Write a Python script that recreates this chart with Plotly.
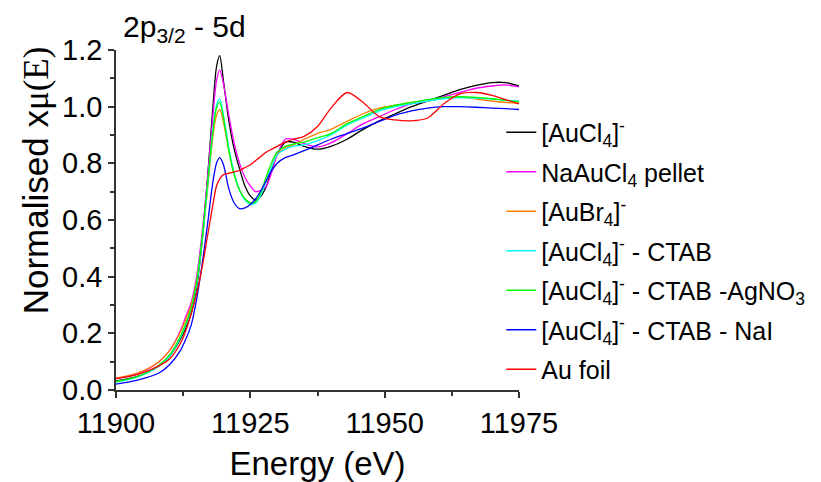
import plotly.graph_objects as go

# Photon energy grid (eV), denser across the white-line region
energy = [11900, 11904, 11908, 11910, 11912, 11913, 11914, 11915, 11916, 11917,
          11918, 11918.7, 11919.3, 11920, 11921, 11922, 11923, 11924, 11925, 11926,
          11927, 11928, 11929, 11930, 11931.5, 11933, 11935, 11937.5, 11940, 11943,
          11946, 11949, 11952, 11955, 11958, 11961, 11964, 11967, 11970, 11972.5, 11975]

aucl4 = [0.032, 0.048, 0.085, 0.12, 0.18, 0.22, 0.27, 0.36, 0.52, 0.74,
         0.99, 1.14, 1.18, 1.09, 0.95, 0.85, 0.78, 0.72, 0.685, 0.67,
         0.685, 0.72, 0.78, 0.83, 0.875, 0.875, 0.86, 0.85, 0.86, 0.885,
         0.92, 0.95, 0.975, 1.0, 1.02, 1.04, 1.06, 1.075, 1.085, 1.085, 1.073]

naaucl4_pellet = [0.04, 0.058, 0.10, 0.14, 0.21, 0.26, 0.31, 0.40, 0.55, 0.74,
                  0.96, 1.09, 1.13, 1.08, 0.97, 0.87, 0.80, 0.75, 0.72, 0.70,
                  0.705, 0.72, 0.77, 0.83, 0.885, 0.885, 0.87, 0.858, 0.872, 0.905,
                  0.94, 0.965, 0.99, 1.01, 1.02, 1.035, 1.05, 1.065, 1.073, 1.077, 1.07]

aubr4 = [0.042, 0.06, 0.10, 0.14, 0.205, 0.25, 0.30, 0.385, 0.52, 0.70,
         0.89, 0.97, 0.99, 0.945, 0.845, 0.76, 0.705, 0.675, 0.66, 0.662,
         0.695, 0.745, 0.79, 0.83, 0.855, 0.865, 0.885, 0.905, 0.92, 0.948,
         0.975, 0.995, 1.005, 1.015, 1.02, 1.03, 1.035, 1.027, 1.02, 1.015, 1.012]

aucl4_ctab = [0.028, 0.045, 0.085, 0.12, 0.185, 0.23, 0.285, 0.37, 0.52, 0.71,
              0.91, 1.005, 1.027, 0.97, 0.855, 0.765, 0.705, 0.67, 0.655, 0.66,
              0.69, 0.74, 0.79, 0.83, 0.85, 0.86, 0.865, 0.88, 0.9, 0.935,
              0.96, 0.985, 1.0, 1.01, 1.02, 1.028, 1.032, 1.03, 1.027, 1.023, 1.02]

aucl4_ctab_agno3 = [0.03, 0.047, 0.088, 0.125, 0.19, 0.235, 0.29, 0.38, 0.53, 0.72,
                    0.91, 0.995, 1.015, 0.96, 0.845, 0.76, 0.705, 0.675, 0.66, 0.665,
                    0.70, 0.755, 0.805, 0.84, 0.86, 0.868, 0.875, 0.89, 0.905, 0.94,
                    0.965, 0.99, 1.005, 1.015, 1.025, 1.033, 1.035, 1.033, 1.028, 1.022, 1.018]

aucl4_ctab_nai = [0.021, 0.035, 0.06, 0.09, 0.14, 0.18, 0.23, 0.32, 0.44, 0.58,
                  0.73, 0.80, 0.82, 0.795, 0.71, 0.66, 0.64, 0.643, 0.655, 0.675,
                  0.705, 0.74, 0.775, 0.80, 0.82, 0.83, 0.845, 0.865, 0.885, 0.905,
                  0.925, 0.948, 0.97, 0.985, 0.995, 1.0, 1.0, 0.998, 0.995, 0.993, 0.99]

au_foil = [0.04, 0.055, 0.085, 0.11, 0.165, 0.21, 0.27, 0.34, 0.43, 0.54,
           0.65, 0.72, 0.745, 0.76, 0.765, 0.77, 0.775, 0.785, 0.795, 0.81,
           0.825, 0.84, 0.85, 0.86, 0.875, 0.885, 0.895, 0.93, 0.995, 1.05,
           1.015, 0.965, 0.953, 0.95, 0.96, 1.01, 1.045, 1.05, 1.04, 1.025, 1.01]

series_names = [
    "[AuCl<sub>4</sub>]<sup>-</sup>",
    "NaAuCl<sub>4</sub> pellet",
    "[AuBr<sub>4</sub>]<sup>-</sup>",
    "[AuCl<sub>4</sub>]<sup>-</sup> - CTAB",
    "[AuCl<sub>4</sub>]<sup>-</sup> - CTAB -AgNO<sub>3</sub>",
    "[AuCl<sub>4</sub>]<sup>-</sup> - CTAB - NaI",
    "Au foil",
]
series_values = [aucl4, naaucl4_pellet, aubr4, aucl4_ctab,
                 aucl4_ctab_agno3, aucl4_ctab_nai, au_foil]
series_colors = ["#000000", "#FF00FF", "#FF8000", "#00FFFF",
                 "#00FF00", "#0000FF", "#FF0000"]

FONT = "Liberation Sans, Arial, sans-serif"

fig = go.Figure()
for i, (name, vals, col) in enumerate(zip(series_names, series_values, series_colors)):
    fig.add_trace(go.Scatter(
        x=energy, y=vals, name=name, mode="lines",
        line=dict(color=col, width=1.3, shape="spline", smoothing=0.8),
        legendgroup=f"g{i}",
    ))

axis_common = dict(
    showline=True, linecolor="#333333", linewidth=1.5,
    ticks="outside", ticklen=6, tickwidth=1.5, tickcolor="#333333",
    showgrid=False, zeroline=False, mirror=False, automargin=False,
    tickfont=dict(family=FONT, size=29, color="#000000"),
)

fig.update_xaxes(
    range=[11900, 11975], dtick=25, tick0=11900, tickformat="d",
    minor=dict(dtick=12.5, ticks="outside", ticklen=4, tickwidth=1.5, tickcolor="#333333"),
    title=dict(text="Energy (eV)", font=dict(family=FONT, size=33, color="#000000"), standoff=14),
    **axis_common,
)
fig.update_yaxes(
    range=[0, 1.2], dtick=0.2, tick0=0, tickformat=".1f",
    minor=dict(dtick=0.1, ticks="outside", ticklen=4, tickwidth=1.5, tickcolor="#333333"),
    **axis_common,
)

fig.add_annotation(
    text="Normalised x<span style=\"font-family:'Liberation Serif', serif\">μ(E)</span>",
    textangle=-90, xref="paper", yref="paper",
    x=-0.2, y=0.618, xanchor="center", yanchor="middle",
    showarrow=False, font=dict(family=FONT, size=35, color="#000000"),
)
fig.add_annotation(
    text="2p<sub>3/2</sub> - 5d",
    xref="paper", yref="paper", x=0.013, y=1.0,
    xanchor="left", yanchor="bottom", yshift=1,
    showarrow=False, font=dict(family=FONT, size=30, color="#000000"),
)

fig.update_layout(
    width=821, height=482,
    margin=dict(l=116, r=302, t=50, b=92, autoexpand=False),
    paper_bgcolor="white", plot_bgcolor="white",
    legend=dict(
        x=0.956, y=0.825, xanchor="left", yanchor="top",
        font=dict(family=FONT, size=25, color="#000000"),
        tracegroupgap=4, bgcolor="rgba(0,0,0,0)", itemwidth=30,
    ),
    showlegend=True,
)

fig.write_html("out.html")
